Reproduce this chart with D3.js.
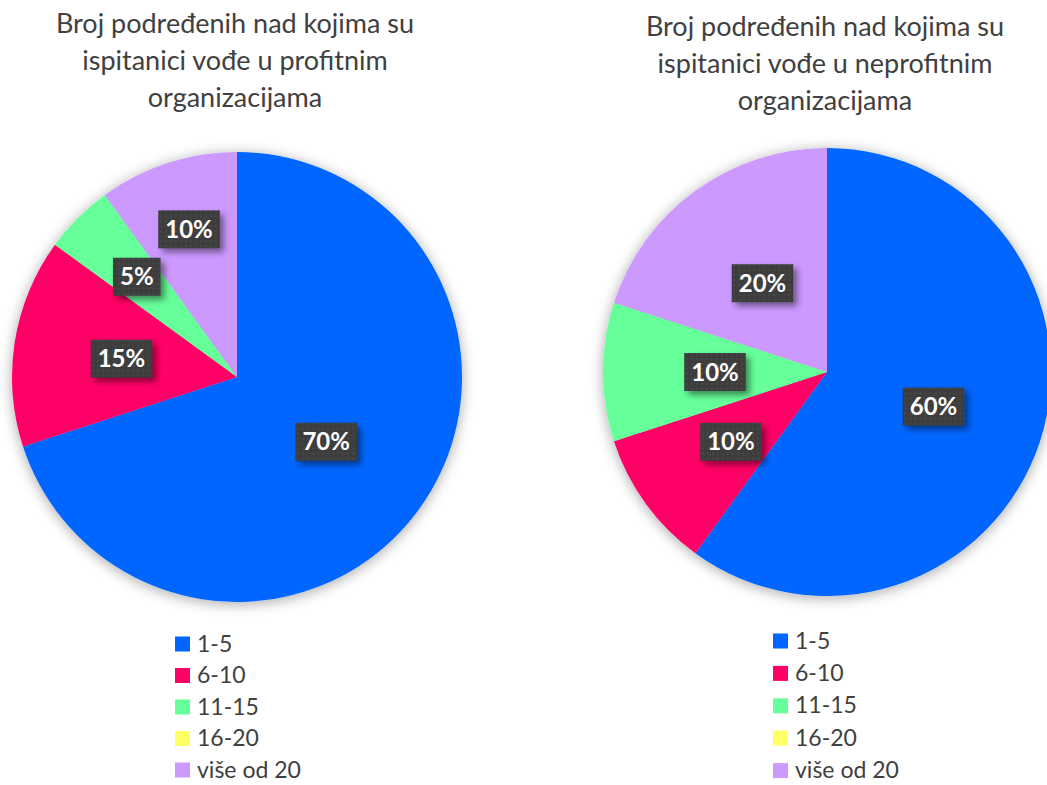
<!DOCTYPE html>
<html>
<head>
<meta charset="utf-8">
<script src="https://cdn.jsdelivr.net/npm/d3@7"></script>
<style>
  body { margin: 0; background: #fff; }
  svg { display: block; font-family: Lato, "Open Sans", sans-serif; }
</style>
</head>
<body>
<script>
'use strict';

// categories and values (percent)
let categories = ['1-5', '6-10', '11-15', '16-20', 'više od 20'];
let profitValues = [70, 15, 5, 0, 10];
let nonprofitValues = [60, 10, 10, 0, 20];

let profitTitle = ['Broj podređenih nad kojima su', 'ispitanici vođe u profitnim', 'organizacijama'];
let nonprofitTitle = ['Broj podređenih nad kojima su', 'ispitanici vođe u neprofitnim', 'organizacijama'];

let colors = ['#0066ff', '#ff0066', '#66ff99', '#ffff66', '#cc99ff'];

// where each data label sits, as a share of the radius (like excel "best fit")
let profitLabelRadius = [0.49, 0.52, 0.63, 0.5, 0.69];
let nonprofitLabelRadius = [0.5, 0.53, 0.5, 0.5, 0.49];

let width = 1047;
let height = 785;

let charts = [
  { title: profitTitle, values: profitValues, labelR: profitLabelRadius,
    cx: 237, cy: 377, r: 225, titleX: 235, titleY: 33,
    legendX: 175, legendY: 644, legendStep: 31.5 },
  { title: nonprofitTitle, values: nonprofitValues, labelR: nonprofitLabelRadius,
    cx: 827, cy: 372, r: 224, titleX: 825, titleY: 36,
    legendX: 773, legendY: 641, legendStep: 32.4 }
];

let svg = d3.select('body').append('svg')
    .attr('width', width)
    .attr('height', height);

let defs = svg.append('defs');

// soft shadow round the pies
let pieShadow = defs.append('filter').attr('id', 'pieShadow')
    .attr('x', '-20%').attr('y', '-20%').attr('width', '140%').attr('height', '140%');
pieShadow.append('feGaussianBlur').attr('in', 'SourceAlpha').attr('stdDeviation', 7);
pieShadow.append('feOffset').attr('dx', 0).attr('dy', 2).attr('result', 'b');
pieShadow.append('feComponentTransfer').append('feFuncA').attr('type', 'linear').attr('slope', 0.35);
let pm = pieShadow.append('feMerge');
pm.append('feMergeNode');
pm.append('feMergeNode').attr('in', 'SourceGraphic');

// shadow under the label boxes
let boxShadow = defs.append('filter').attr('id', 'boxShadow')
    .attr('x', '-30%').attr('y', '-30%').attr('width', '170%').attr('height', '170%');
boxShadow.append('feGaussianBlur').attr('in', 'SourceAlpha').attr('stdDeviation', 3);
boxShadow.append('feOffset').attr('dx', 4).attr('dy', 4);
boxShadow.append('feComponentTransfer').append('feFuncA').attr('type', 'linear').attr('slope', 0.45);
let bm = boxShadow.append('feMerge');
bm.append('feMergeNode');
bm.append('feMergeNode').attr('in', 'SourceGraphic');

// dotted dark fill of the labels
let dots = defs.append('pattern').attr('id', 'dots')
    .attr('width', 5).attr('height', 5).attr('patternUnits', 'userSpaceOnUse');
dots.append('rect').attr('width', 5).attr('height', 5).attr('fill', '#3d3d3d');
dots.append('rect').attr('x', 1).attr('y', 1).attr('width', 1.6).attr('height', 1.6).attr('fill', '#4d4d4d');

let color = d3.scaleOrdinal().domain(categories).range(colors);

let pie = d3.pie()
    .sort(null)
    .value(function(d) { return d.value; });

charts.forEach(function(c) {
  let data = categories.map(function(k, i) { return { key: k, value: c.values[i], lr: c.labelR[i] }; });

  // title
  svg.append('text')
      .attr('x', c.titleX)
      .attr('y', c.titleY)
      .attr('text-anchor', 'middle')
      .attr('fill', '#404040')
      .style('font-size', '27px')
    .selectAll('tspan')
    .data(c.title)
    .enter().append('tspan')
      .attr('x', c.titleX)
      .attr('dy', function(d, i) { return i === 0 ? 0 : 37; })
      .text(function(d) { return d; });

  let g = svg.append('g')
      .attr('transform', 'translate(' + c.cx + ',' + c.cy + ')');

  let arc = d3.arc().innerRadius(0).outerRadius(c.r);

  let arcs = pie(data).filter(function(d) { return d.value > 0; });

  g.append('g')
      .attr('filter', 'url(#pieShadow)')
    .selectAll('path')
    .data(arcs)
    .enter().append('path')
      .attr('d', arc)
      .attr('fill', function(d) { return color(d.data.key); });

  // data labels
  let lab = g.selectAll('g.lab')
    .data(arcs)
    .enter().append('g')
      .attr('class', 'lab')
      .attr('transform', function(d) {
        let a = (d.startAngle + d.endAngle) / 2;
        let rr = c.r * d.data.lr;
        return 'translate(' + (Math.sin(a) * rr) + ',' + (-Math.cos(a) * rr) + ')';
      });

  let rects = lab.append('rect')
      .attr('fill', 'url(#dots)')
      .attr('filter', 'url(#boxShadow)');

  let texts = lab.append('text')
      .attr('text-anchor', 'middle')
      .attr('dy', '0.36em')
      .attr('fill', '#fff')
      .style('font-size', '24px')
      .style('font-weight', 'bold')
      .text(function(d) { return d.value + '%'; });

  texts.each(function(d, i) {
    let bb = this.getBBox();
    d3.select(rects.nodes()[i])
      .attr('x', -bb.width / 2 - 7)
      .attr('y', -19)
      .attr('width', bb.width + 14)
      .attr('height', 38);
  });

  // legend
  let leg = svg.append('g')
      .attr('transform', 'translate(' + c.legendX + ',' + c.legendY + ')');

  let row = leg.selectAll('g')
    .data(categories)
    .enter().append('g')
      .attr('transform', function(d, i) { return 'translate(0,' + (i * c.legendStep) + ')'; });

  row.append('rect')
      .attr('x', 0)
      .attr('y', -7.5)
      .attr('width', 15)
      .attr('height', 15)
      .attr('fill', function(d) { return color(d); });

  row.append('text')
      .attr('x', 22)
      .attr('dy', '0.33em')
      .attr('fill', '#404040')
      .style('font-size', '23px')
      .text(function(d) { return d; });
});
</script>
</body>
</html>
